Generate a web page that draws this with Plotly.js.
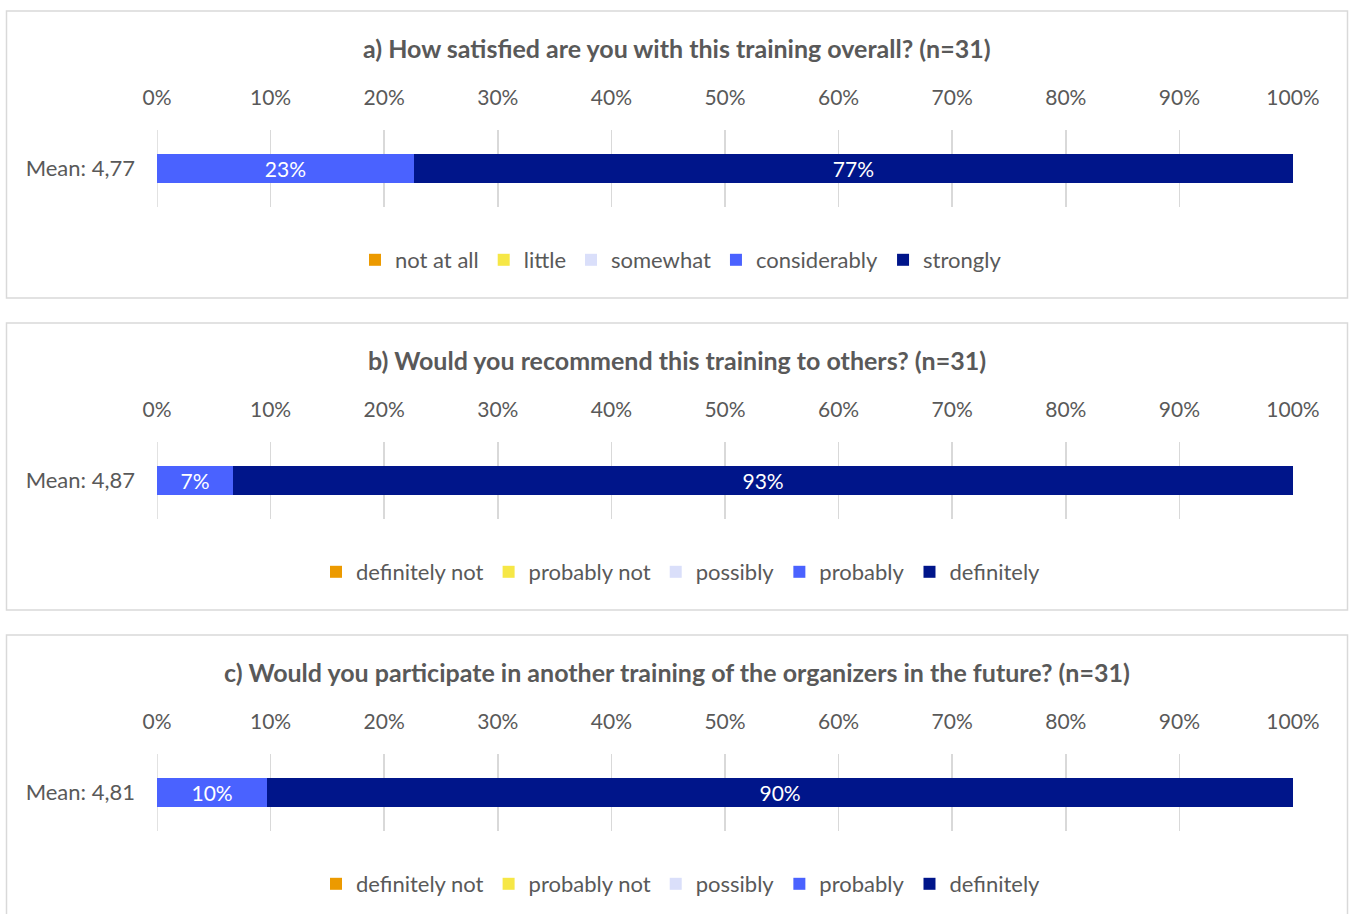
<!DOCTYPE html>
<html>
<head>
<meta charset="utf-8">
<script src="https://cdn.plot.ly/plotly-3.0.1.min.js"></script>
<style>html,body{margin:0;padding:0;background:#fff;}#chart{width:1349px;height:914px;}</style>
</head>
<body>
<div id="chart"></div>
<script>
// ---- data ----
const categories = ['Mean: 4,77', 'Mean: 4,87', 'Mean: 4,81'];
const panelTitles = [
  'a) How satisfied are you with this training overall? (n=31)',
  'b) Would you recommend this training to others? (n=31)',
  'c) Would you participate in another training of the organizers in the future? (n=31)'
];
const scaleA = ['not at all', 'little', 'somewhat', 'considerably', 'strongly'];
const scaleBC = ['definitely not', 'probably not', 'possibly', 'probably', 'definitely'];
const valuesA = [0, 0, 0, 0.226, 0.774];
const valuesB = [0, 0, 0, 0.067, 0.933];
const valuesC = [0, 0, 0, 0.097, 0.903];
const xTickVals = [0, 0.1, 0.2, 0.3, 0.4, 0.5, 0.6, 0.7, 0.8, 0.9, 1.0];

// ---- style ----
const levelColors = ['#EC9A00', '#F6E746', '#DADFFA', '#4A62FF', '#00158A'];
const W = 1349, H = 914;
const FONT = 'Lato, "Open Sans", sans-serif';
const TXT = '#595959';
const GRID = '#d9d9d9';

const panels = [
  {title: panelTitles[0], cat: categories[0], names: scaleA, vals: valuesA, box: [11, 298], plot: [130, 207], titleY: 48, legY: 260},
  {title: panelTitles[1], cat: categories[1], names: scaleBC, vals: valuesB, box: [323, 610], plot: [442, 519], titleY: 360, legY: 572},
  {title: panelTitles[2], cat: categories[2], names: scaleBC, vals: valuesC, box: [635, 930], plot: [754, 831], titleY: 672, legY: 884}
];
const plotX = [157, 1293];
const py = v => 1 - v / H;
const px = v => v / W;

const traces = [];
const layout = {
  width: W, height: H,
  margin: {l: 0, r: 0, t: 0, b: 0},
  paper_bgcolor: '#fff', plot_bgcolor: '#fff',
  barmode: 'stack',
  hovermode: false,
  font: {family: FONT, color: TXT, size: 20},
  shapes: [], annotations: []
};

panels.forEach((p, k) => {
  const sfx = k === 0 ? '' : String(k + 1);
  p.vals.forEach((v, i) => {
    traces.push({
      type: 'bar', orientation: 'h',
      x: [v], y: [p.cat],
      name: p.names[i],
      xaxis: 'x' + sfx, yaxis: 'y' + sfx,
      legend: 'legend' + sfx,
      width: 0.364,
      marker: {color: levelColors[i], line: {width: 0}},
      text: [v > 0 ? Math.round(v * 100) + '%' : ''],
      textposition: 'inside', insidetextanchor: 'middle',
      textfont: {color: '#ffffff', size: 21, family: FONT},
      constraintext: 'none',
      cliponaxis: false
    });
  });
  layout['xaxis' + sfx] = {
    domain: [px(plotX[0]), px(plotX[1])],
    anchor: 'y' + sfx,
    side: 'top',
    range: [0, 1],
    tickvals: xTickVals,
    tickformat: '.0%',
    showgrid: true, gridcolor: GRID, gridwidth: 1.5,
    zeroline: false, showline: false, ticks: '',
    ticklabelstandoff: 20,
    tickfont: {size: 21, color: TXT, family: FONT},
    fixedrange: true
  };
  layout['yaxis' + sfx] = {
    domain: [py(p.plot[1]), py(p.plot[0])],
    anchor: 'x' + sfx,
    type: 'category',
    range: [-0.5, 0.5],
    showgrid: false, zeroline: false, showline: false, ticks: '',
    ticklabelstandoff: 21,
    tickfont: {size: 22, color: TXT, family: FONT},
    fixedrange: true
  };
  layout['legend' + sfx] = {
    orientation: 'h',
    x: px(681), xanchor: 'center',
    y: py(p.legY), yanchor: 'middle',
    font: {size: 22, color: TXT, family: FONT},
    traceorder: 'normal',
    itemwidth: 30,
    bgcolor: 'rgba(0,0,0,0)'
  };
  // gridline at 0%
  layout.shapes.push({
    type: 'line', xref: 'x' + sfx, yref: 'y' + sfx + ' domain',
    x0: 0, x1: 0, y0: 0, y1: 1,
    line: {color: GRID, width: 1.5}, layer: 'below'
  });
  layout.shapes.push({
    type: 'rect', xref: 'paper', yref: 'paper',
    x0: px(6.5), x1: px(1347.5), y0: py(p.box[1]), y1: py(p.box[0]),
    line: {color: GRID, width: 1.5}, fillcolor: 'rgba(0,0,0,0)', layer: 'below'
  });
  layout.annotations.push({
    xref: 'paper', yref: 'paper',
    x: px(677), y: py(p.titleY), xanchor: 'center', yanchor: 'middle',
    text: '<b>' + p.title + '</b>', showarrow: false,
    font: {size: 25, color: TXT, family: FONT}
  });
});

Plotly.newPlot('chart', traces, layout, {displayModeBar: false, staticPlot: true});
</script>
</body>
</html>
